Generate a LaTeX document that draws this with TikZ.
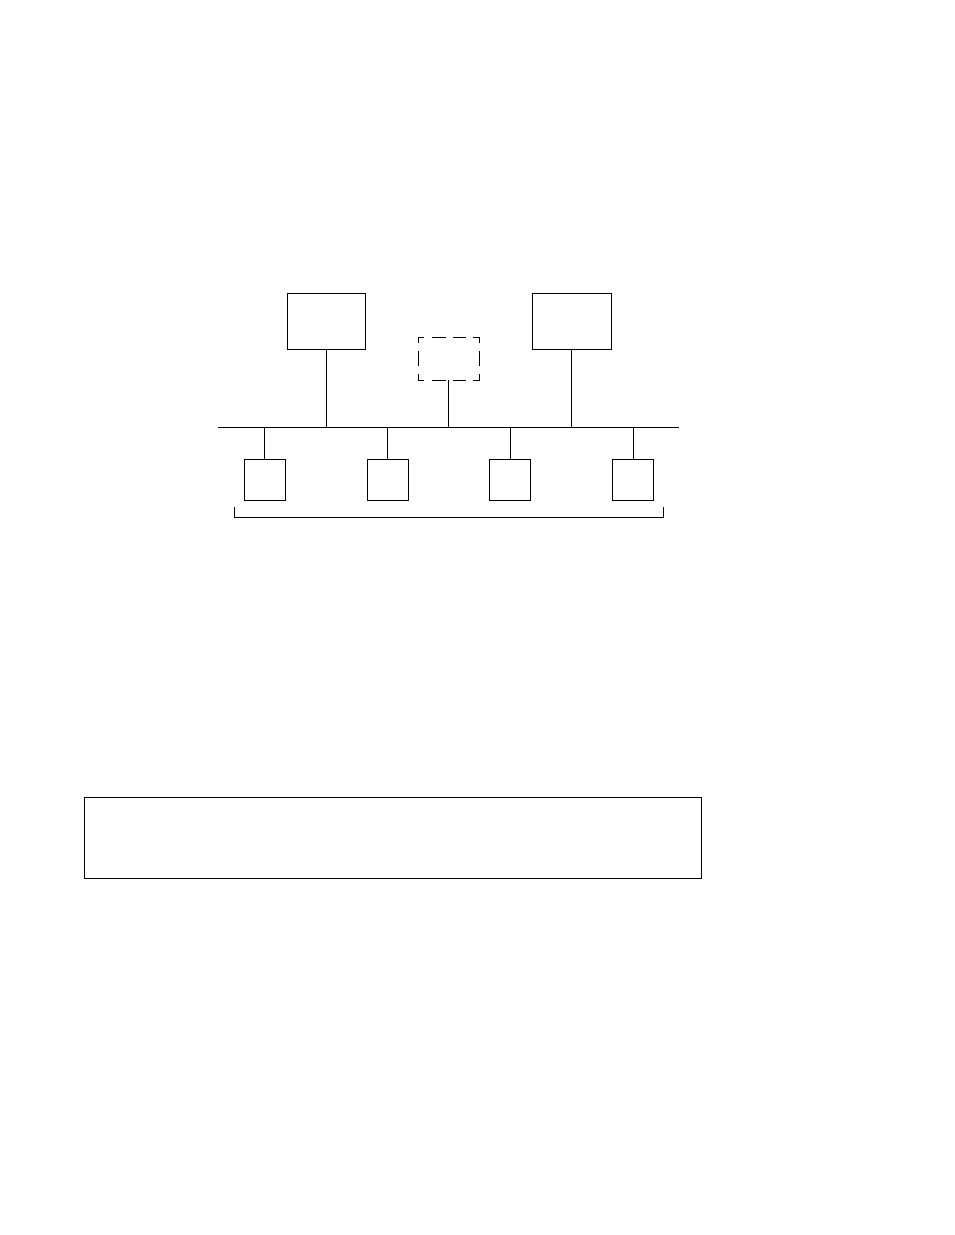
\documentclass[tikz,border=0pt]{standalone}
\begin{document}
\begin{tikzpicture}[x=1pt,y=-1pt,
  wire/.style={line width=1pt},
  box/.style={draw,line width=1pt,inner sep=0pt,outer sep=0pt,rectangle},
  bigbox/.style={box,minimum width=78pt,minimum height=56pt},
  smallbox/.style={box,minimum width=41pt,minimum height=41pt},
  dashbox/.style={rectangle,inner sep=0pt,outer sep=0pt,minimum width=61pt,minimum height=43pt}]
\useasboundingbox (0,0) rectangle (954,1235);
% upper units
\node[bigbox] (hostA) at (326,321) {};
\node[bigbox,minimum width=79pt] (hostB) at (571.5,321) {};
\node[dashbox] (opt) at (448.5,358.5) {};
% dashed outline of the optional unit
\draw[wire] (opt.north west) ++(0,6) -- ++(0,-6) -- ++(6,0);
\draw[wire] (opt.north east) ++(0,6) -- ++(0,-6) -- ++(-6,0);
\draw[wire] (opt.south west) ++(0,-6) -- ++(0,6) -- ++(6,0);
\draw[wire] (opt.south east) ++(0,-6) -- ++(0,6) -- ++(-6,0);
\draw[wire] (opt.north west) ++(14,0) -- ++(14,0) ++(7,0) -- ++(13,0);
\draw[wire] (opt.south west) ++(14,0) -- ++(14,0) ++(7,0) -- ++(13,0);
\draw[wire] (opt.north west) ++(0,14) -- ++(0,15);
\draw[wire] (opt.north east) ++(0,14) -- ++(0,15);
% bus
\coordinate (busL) at (218,427);
\coordinate (busR) at (679,427);
\draw[wire] (busL) -- (busR);
\coordinate (jA) at (326,427);
\coordinate (jO) at (448.5,427);
\coordinate (jB) at (571.5,427);
\draw[wire] (hostA.south) -- (jA);
\draw[wire] (opt.south) -- (jO);
\draw[wire] (hostB.south) -- (jB);
% lower units
\foreach \n/\x in {s1/264.5,s2/387.5,s3/510,s4/633}{
  \node[smallbox] (\n) at (\x,479.5) {};
  \coordinate (j\n) at (\x,427);
  \draw[wire] (j\n) -- (\n.north);
}
% bracket
\coordinate (brL) at (234,507);
\coordinate (brR) at (663,507);
\draw[wire] (brL) -- ++(0,10) -| (brR);
% bottom box
\node[box,minimum width=617pt,minimum height=81pt] (panel) at (392.5,837.5) {};
\end{tikzpicture}
\end{document}
